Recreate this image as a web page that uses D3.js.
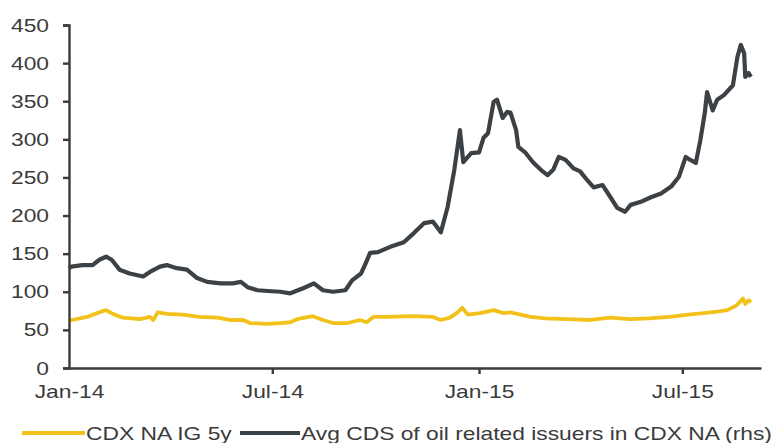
<!DOCTYPE html>
<html>
<head>
<meta charset="utf-8">
<script src="https://cdn.jsdelivr.net/npm/d3@7"></script>
<style>
  html, body { margin: 0; padding: 0; background: #fff; }
  svg { display: block; }
  text { font-family: "Liberation Sans", Arial, sans-serif; fill: #3b3b3b; }
</style>
</head>
<body>
<svg id="chart" width="777" height="443"></svg>
<script>
// CDX NA IG 5y spread (bp)
const igDates = ["2014-01-01","2014-01-04","2014-01-17","2014-01-26","2014-02-03","2014-02-09","2014-02-18",
  "2014-03-05","2014-03-14","2014-03-17","2014-03-21","2014-03-29","2014-04-12","2014-04-27","2014-05-13",
  "2014-05-24","2014-06-05","2014-06-11","2014-06-26","2014-07-08","2014-07-17","2014-07-23","2014-08-06",
  "2014-08-15","2014-08-24","2014-09-06","2014-09-17","2014-09-23","2014-09-29","2014-10-11","2014-11-03",
  "2014-11-21","2014-11-28","2014-12-06","2014-12-13","2014-12-17","2014-12-22","2015-01-02","2015-01-14",
  "2015-01-23","2015-01-29","2015-02-07","2015-02-16","2015-03-01","2015-03-20","2015-04-10","2015-04-28",
  "2015-05-15","2015-06-01","2015-06-20","2015-07-06","2015-07-20","2015-08-01","2015-08-10","2015-08-18",
  "2015-08-24","2015-08-26","2015-08-29","2015-08-31"];
const igValues = [62,63,67,72,76,71,66,
  64,67,63,73,71,70,67,66,
  63,63,59,58,59,60,64,68,
  63,59,59,63,60,67,67,68,
  67,63,66,73,79,70,72,76,
  72,73,70,67,65,64,63,66,
  64,65,67,70,72,74,76,82,
  91,84,89,86];

// Average CDS of oil related issuers in CDX NA (bp)
const oilDates = ["2014-01-01","2014-01-03","2014-01-13","2014-01-22","2014-01-28","2014-02-03","2014-02-08",
  "2014-02-15","2014-02-24","2014-03-08","2014-03-14","2014-03-23","2014-03-29","2014-04-07","2014-04-16",
  "2014-04-25","2014-05-04","2014-05-16","2014-05-27","2014-06-03","2014-06-09","2014-06-18","2014-06-27",
  "2014-07-08","2014-07-17","2014-07-29","2014-08-07","2014-08-15","2014-08-24","2014-09-04","2014-09-10",
  "2014-09-18","2014-09-22","2014-09-26","2014-10-03","2014-10-14","2014-10-26","2014-11-04","2014-11-13",
  "2014-11-21","2014-11-28","2014-12-04","2014-12-10","2014-12-15","2014-12-18","2014-12-25","2015-01-01",
  "2015-01-05","2015-01-09","2015-01-14","2015-01-17","2015-01-22","2015-01-26","2015-01-29","2015-02-03",
  "2015-02-05","2015-02-11","2015-02-18","2015-02-25","2015-03-03","2015-03-08","2015-03-13","2015-03-19",
  "2015-03-26","2015-04-01","2015-04-07","2015-04-13","2015-04-21","2015-04-28","2015-05-04","2015-05-11",
  "2015-05-16","2015-05-25","2015-06-03","2015-06-12","2015-06-21","2015-06-28","2015-07-04","2015-07-08",
  "2015-07-13","2015-07-17","2015-07-21","2015-07-23","2015-07-28","2015-08-01","2015-08-07","2015-08-15",
  "2015-08-19","2015-08-22","2015-08-25","2015-08-26","2015-08-29","2015-08-31"];
const oilValues = [131,133,135,135,142,146,142,
  129,124,120,126,133,135,131,129,
  118,113,111,111,113,106,102,101,
  100,98,105,111,102,100,102,115,
  124,137,151,152,159,165,177,190,
  192,178,211,260,312,270,282,283,
  302,308,349,352,328,336,335,312,
  290,283,270,260,253,260,277,273,
  262,258,247,237,240,224,210,205,
  214,218,224,229,238,251,277,273,
  269,299,335,362,338,352,358,371,
  408,424,413,382,387,382];

const yTicks = [0, 50, 100, 150, 200, 250, 300, 350, 400, 450];
const xTickDates = ["2014-01-01", "2014-07-01", "2015-01-01", "2015-07-01"];
const seriesNames = ["CDX NA IG 5y", "Avg CDS of oil related issuers in CDX NA (rhs)"];
const seriesColors = ["#f2c21b", "#3c4146"];

const parse = d3.timeParse("%Y-%m-%d");
const fmt = d3.timeFormat("%b-%y");
const igSeries = igDates.map((d, i) => ({ date: parse(d), value: igValues[i] }));
const oilSeries = oilDates.map((d, i) => ({ date: parse(d), value: oilValues[i] }));

const svg = d3.select("#chart");
const plotLeft = 69, plotRight = 761, plotTop = 25, plotBottom = 368;

const x = d3.scaleTime()
  .domain([parse("2014-01-01"), parse("2015-09-09")])
  .range([plotLeft, plotRight]);
const y = d3.scaleLinear().domain([0, 450]).range([plotBottom, plotTop]);

const stretch = 1.2;   // widen glyphs horizontally
function widen(sel) {
  sel.each(function () {
    const w = this.getComputedTextLength();
    d3.select(this).attr("textLength", w * stretch).attr("lengthAdjust", "spacingAndGlyphs");
  });
}

// lines
const line = d3.line().x(d => x(d.date)).y(d => y(d.value)).curve(d3.curveLinear);
svg.append("path").datum(igSeries)
  .attr("d", line).attr("fill", "none")
  .attr("stroke", seriesColors[0]).attr("stroke-width", 3.8)
  .attr("stroke-linejoin", "round");
svg.append("path").datum(oilSeries)
  .attr("d", line).attr("fill", "none")
  .attr("stroke", seriesColors[1]).attr("stroke-width", 4.2)
  .attr("stroke-linejoin", "round");

// y axis
const yAxis = svg.append("g").attr("transform", `translate(${plotLeft},0)`)
  .call(d3.axisLeft(y).tickValues(yTicks).tickSize(6).tickSizeOuter(6).tickPadding(14));
// x axis
const xAxis = svg.append("g").attr("transform", `translate(0,${plotBottom})`)
  .call(d3.axisBottom(x).tickValues(xTickDates.map(parse)).tickFormat(fmt)
    .tickSize(6).tickSizeOuter(0).tickPadding(11));

[yAxis, xAxis].forEach(g => {
  g.selectAll("path, line").attr("stroke", "#3b3b3b").attr("stroke-width", 2.4);
  g.selectAll("text").attr("font-size", 19).attr("fill", "#3b3b3b")
    .style("font-family", '"Liberation Sans", Arial, sans-serif');
  widen(g.selectAll("text"));
});
xAxis.selectAll(".tick").filter((d, i) => i === 0).select("line").remove();

// legend
const legY = 433;
const legend = [
  { x1: 22, x2: 85, color: seriesColors[0], w: 3.8, name: seriesNames[0] },
  { x1: 240, x2: 300, color: seriesColors[1], w: 4.2, name: seriesNames[1] }
];
legend.forEach(l => {
  svg.append("line").attr("x1", l.x1).attr("x2", l.x2).attr("y1", legY).attr("y2", legY)
    .attr("stroke", l.color).attr("stroke-width", l.w);
  svg.append("text").attr("x", l.x2 + 1).attr("y", legY + 7)
    .attr("font-size", 19).text(l.name).call(widen);
});
</script>
</body>
</html>
